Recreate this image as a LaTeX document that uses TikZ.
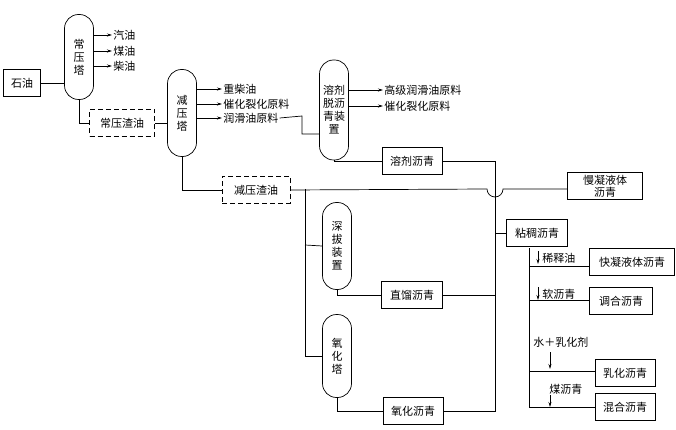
\documentclass[tikz,border=0pt]{standalone}
\usepackage{fontspec}
\setmainfont{Noto Sans CJK SC}
\usetikzlibrary{arrows.meta}
\begin{document}
\begin{tikzpicture}[x=1pt,y=-1pt,line width=0.7pt,
 box/.style={draw,inner sep=0pt,minimum height=27pt,font=\fontsize{11}{12}\selectfont},
 dbox/.style={box,dashed,dash pattern=on 5pt off 3pt},
 tower/.style={draw,rounded corners=14pt,minimum width=29pt,inner sep=0pt,align=center,font=\fontsize{11}{13}\selectfont},
 lab/.style={anchor=west,inner sep=1pt,font=\fontsize{11}{12}\selectfont},
 ar/.style={-{Stealth[length=5pt,width=3pt]}}]
\useasboundingbox (0,0) rectangle (676,430);
\node[box,minimum width=37pt] (oil) at (22,83) {石油};
\node[tower,minimum height=85pt] (t1) at (79,57) {常\\压\\塔};
\foreach \y/\t [count=\i] in {35/汽油,51/煤油,66/柴油}{
 \coordinate (a\i) at (93,\y);
 \node[lab] (l\i) at (112,\y) {\t};
 \draw[ar] (a\i) -- (l\i.west);}
\draw (oil.east) -- (t1.west|-oil);
\node[dbox,minimum width=65pt] (r1) at (122,123) {常压渣油};
\draw (t1.south) |- (r1.west);
\node[tower,minimum height=87pt] (t2) at (182,113) {减\\压\\塔};
\draw (r1.east) -- (t2.west|-r1);
\foreach \y/\t [count=\i] in {89/重柴油,104/催化裂化原料,118/润滑油原料}{
 \coordinate (b\i) at (197,\y);
 \node[lab] (m\i) at (222,\y) {\t};
 \draw[ar] (b\i) -- (m\i.west);}
\node[tower,minimum height=100pt] (t3) at (334,110) {溶剂\\脱沥\\青装\\置};
\coordinate (c1) at (302,116);
\draw (m3.east) -- (c1) |- (t3.west|-0,134);
\foreach \y/\t [count=\i] in {90/高级润滑油原料,106/催化裂化原料}{
 \coordinate (d\i) at (348,\y);
 \node[lab] (n\i) at (383,\y) {\t};
 \draw[ar] (d\i) -- (n\i.west);}
\node[box,minimum width=60pt] (sa) at (412,161) {溶剂沥青};
\draw (t3.south) |- (sa.west);
\node[dbox,minimum width=68pt] (r2) at (256,190) {减压渣油};
\draw (t2.south) |- (r2.west);
\node[box,minimum width=75pt,align=center,font=\fontsize{11}{12}\selectfont] (ml) at (605,186) {慢凝液体\\沥青};
\draw (r2.east) -- (487,189) arc[start angle=180,end angle=0,radius=8] -- (ml.west|-0,189);
\node[tower,minimum height=87pt] (t4) at (337,246) {深\\拔\\装\\置};
\node[tower,minimum height=83pt] (t5) at (337,356) {氧\\化\\塔};
\coordinate (v1) at (305,189);
\draw (v1) |- (t5.west);
\draw (305,245) -- (t4.west);
\node[box,minimum width=61pt] (zl) at (412,295) {直馏沥青};
\node[box,minimum width=60pt] (yh) at (413,411) {氧化沥青};
\draw (t4.south) |- (zl.west);
\draw (t5.south) |- (yh.west);
\coordinate (v2) at (495,161);
\draw (sa.east) -- (v2) -- (495,411) -- (yh.east);
\draw (zl.east) -- (495,295);
\node[box,minimum width=61pt] (nc) at (537,233) {粘稠沥青};
\draw (495,233) -- (nc.west);
\draw (529,248) -- (529,407);
\node[box,minimum width=85pt] (kn) at (632,262) {快凝液体沥青};
\node[box,minimum width=63pt] (th) at (621,301) {调合沥青};
\node[box,minimum width=60pt] (rh) at (625,373) {乳化沥青};
\node[box,minimum width=60pt] (hh) at (625,407) {混合沥青};
\draw (529,266) -- (kn.west|-0,266);
\draw (529,300) -- (th.west|-0,300);
\draw (529,371) -- (rh.west|-0,371);
\draw (529,407) -- (hh.west);
\node[lab] (x1) at (541,258) {稀释油};
\node[lab] (x2) at (541,294) {软沥青};
\node[lab] (x3) at (532,342) {水＋乳化剂};
\node[lab] (x4) at (548,389) {煤沥青};
\draw[ar] (538,251) -- (538,264);
\draw[ar] (538,287) -- (538,300);
\draw[ar] (550,352) -- (550,369);
\draw[ar] (550,395) -- (550,407);
\end{tikzpicture}
\end{document}
